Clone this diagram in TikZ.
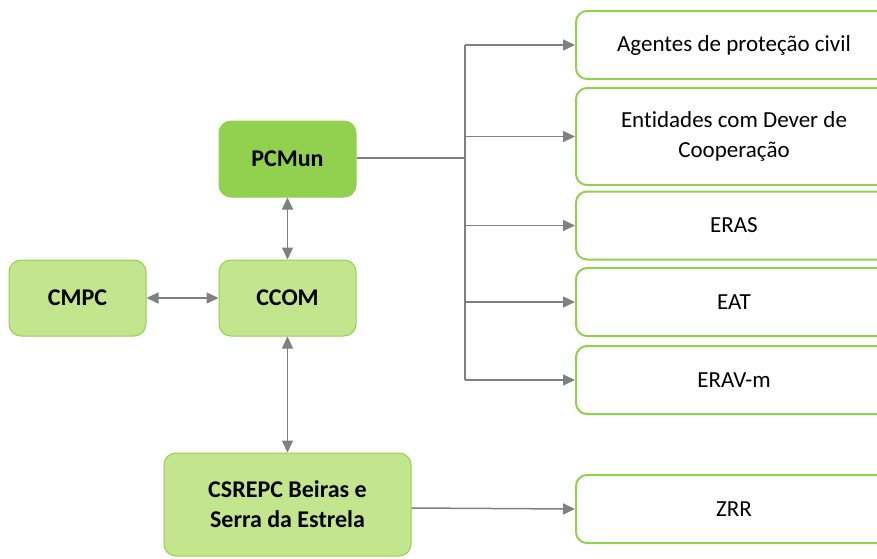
\documentclass[tikz,border=0pt]{standalone}
\usepackage{fontspec}
\setmainfont[Ligatures=NoCommon]{Carlito}
\usepackage{tikz}
\usetikzlibrary{arrows.meta,positioning}
\definecolor{pcgreen}{HTML}{92D050}
\definecolor{lightgreen}{HTML}{C3E58E}
\definecolor{linegray}{HTML}{808080}
\tikzset{
  mainbox/.style  ={draw=pcgreen,line width=1pt,rounded corners=12pt,align=center,
                    minimum width=137pt,minimum height=76pt,fill=lightgreen,
                    font=\fontsize{24}{30}\selectfont\bfseries},
  agentbox/.style ={draw=pcgreen,line width=2pt,rounded corners=11pt,align=center,
                    minimum width=316pt,minimum height=68pt,fill=white,anchor=west,
                    font=\fontsize{23}{30}\selectfont},
  arrow/.style    ={-{Triangle[length=12pt,width=11pt]},draw=linegray,fill=linegray,line width=1.5pt},
  biarrow/.style  ={{Triangle[length=12pt,width=11pt]}-{Triangle[length=12pt,width=11pt]},
                    draw=linegray,fill=linegray,line width=1.5pt},
  link/.style     ={draw=linegray,line width=1.5pt}
}
\begin{document}
\begin{tikzpicture}[x=1pt,y=1pt,node distance=62pt and 72pt]
    \useasboundingbox (0,0) rectangle (877,-558);
    % left column
    \node[mainbox] (ccom) at (287.5,-298) {CCOM};
    \node[mainbox,above=of ccom,fill=pcgreen] (pcmun) {PCMun};
    \node[mainbox,left=of ccom] (cmpc) {CMPC};
    \node[mainbox,below=116pt of ccom,minimum width=247pt,minimum height=103pt] (csrepc)
      {CSREPC Beiras e\\Serra da Estrela};
    % right column
    \node[agentbox] (agentes) at (575,-45)  {Agentes de proteção civil};
    \node[agentbox,minimum height=97pt] (entidades) at (575,-136.5)
      {Entidades com Dever de\\Cooperação};
    \node[agentbox] (eras)    at (575,-225.5) {ERAS};
    \node[agentbox] (eat)     at (575,-302)   {EAT};
    \node[agentbox] (eravm)   at (575,-380)   {ERAV-m};
    \node[agentbox] (zrr)     at (575,-509)   {ZRR};
    \coordinate (hub) at (465,-158);
    \draw[link] (pcmun.east |- hub) -- (hub);
    \draw[link] (hub |- agentes.west) -- (hub |- eravm.west);
    \foreach \target in {agentes,entidades,eras,eat,eravm}
      \draw[arrow] (hub |- \target.west) -- (\target.west);
    \draw[biarrow] (pcmun) -- (ccom);
    \draw[biarrow] (cmpc) -- (ccom);
    \draw[biarrow] (ccom) -- (csrepc);
    \draw[arrow] ([yshift=-3.5pt]csrepc.east) -- (zrr.west);
  \end{tikzpicture}
\end{document}
